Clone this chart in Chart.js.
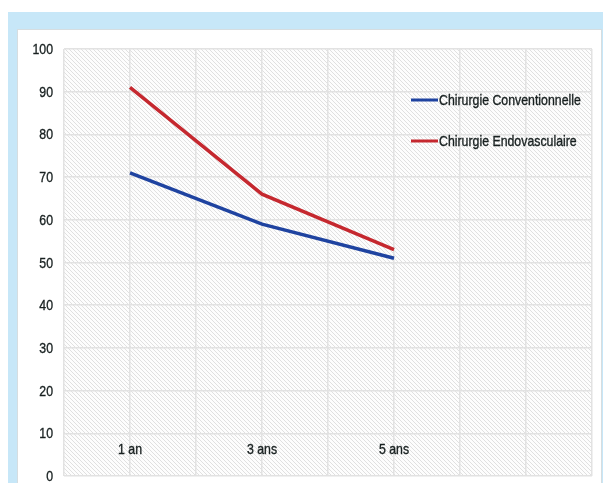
<!DOCTYPE html>
<html>
<head>
<meta charset="utf-8">
<script src="https://cdn.jsdelivr.net/npm/chart.js@4"></script>
<style>
  html, body { margin: 0; padding: 0; background: #fff; overflow: hidden; }
  #band { position: absolute; left: 8px; top: 12px; width: 595px; height: 480px; background: #c7e7f8; }
  #card { position: absolute; left: 17px; top: 29px; width: 583px; height: 470px; background: #fff; border: 1px solid #d6dde0; }
  #wrap { position: absolute; left: 0; top: 0; width: 603px; height: 483px; }
</style>
</head>
<body>
<div id="band"></div>
<div id="card"></div>
<div id="wrap"><canvas id="chart"></canvas></div>
<script>
// values
const categories = ["1 an", "3 ans", "5 ans"];
const years = [1, 3, 5];
const conventionnelle = [71, 59, 51];
const endovasculaire = [91, 66, 53];
const seriesNames = ["Chirurgie Conventionnelle", "Chirurgie Endovasculaire"];
const yTicks = [0, 10, 20, 30, 40, 50, 60, 70, 80, 90, 100];

const FONT = "14.5px 'Liberation Sans', Arial, sans-serif";
const TEXT_COLOR = "#182020";
const SQUEEZE = 0.85; // the original lettering is a narrow face

function toPoints(vals) {
  return vals.map((v, i) => ({ x: years[i], y: v }));
}

// narrow text: draw with a horizontal squeeze, slightly heavier
function narrowText(ctx, str, x, y, align) {
  ctx.save();
  ctx.font = FONT;
  ctx.fillStyle = TEXT_COLOR;
  ctx.strokeStyle = TEXT_COLOR;
  ctx.lineWidth = 0.35;
  ctx.textBaseline = "middle";
  ctx.textAlign = "left";
  const w = ctx.measureText(str).width * SQUEEZE;
  let left = x;
  if (align === "center") left = x - w / 2;
  if (align === "right") left = x - w;
  ctx.translate(left, y);
  ctx.scale(SQUEEZE, 1);
  ctx.fillText(str, 0, 0);
  ctx.strokeText(str, 0, 0);
  ctx.restore();
}

// hatched background of the plot area
function makeHatch() {
  const c = document.createElement("canvas");
  c.width = 4;
  c.height = 4;
  const g = c.getContext("2d");
  g.fillStyle = "#fdfdfd";
  g.fillRect(0, 0, 4, 4);
  g.strokeStyle = "#e0e0e0";
  g.lineWidth = 1;
  g.beginPath();
  g.moveTo(-1, -1);
  g.lineTo(5, 5);
  g.moveTo(-1, 3);
  g.lineTo(1, 5);
  g.moveTo(3, -1);
  g.lineTo(5, 1);
  g.stroke();
  return c;
}

const hatchPlugin = {
  id: "hatch",
  beforeDraw(chart) {
    const { ctx, chartArea } = chart;
    ctx.save();
    ctx.fillStyle = ctx.createPattern(makeHatch(), "repeat");
    ctx.fillRect(chartArea.left, chartArea.top, chartArea.right - chartArea.left, chartArea.bottom - chartArea.top);
    ctx.restore();
  },
};

// tick labels and legend, drawn in the narrow lettering
const labelsPlugin = {
  id: "labels",
  afterDatasetsDraw(chart) {
    const ctx = chart.ctx;
    const xs = chart.scales.x;
    const ys = chart.scales.y;

    yTicks.forEach((v) => {
      narrowText(ctx, String(v), xs.left - 11, ys.getPixelForValue(v) + 1, "right");
    });

    categories.forEach((c, i) => {
      narrowText(ctx, c, xs.getPixelForValue(years[i]), ys.getPixelForValue(6.2), "center");
    });

    chart.data.datasets.forEach((ds, i) => {
      const y = 100 + i * 41;
      ctx.save();
      ctx.strokeStyle = ds.borderColor;
      ctx.lineWidth = 3;
      ctx.beginPath();
      ctx.moveTo(411, y);
      ctx.lineTo(438, y);
      ctx.stroke();
      ctx.restore();
      narrowText(ctx, ds.label, 439, y + 1, "left");
    });
  },
};

new Chart(document.getElementById("chart"), {
  type: "line",
  data: {
    datasets: [
      {
        label: seriesNames[0],
        data: toPoints(conventionnelle),
        borderColor: "#1f43a0",
        borderWidth: 3.4,
        pointRadius: 0,
        tension: 0,
      },
      {
        label: seriesNames[1],
        data: toPoints(endovasculaire),
        borderColor: "#c5282f",
        borderWidth: 3.4,
        pointRadius: 0,
        tension: 0,
      },
    ],
  },
  options: {
    responsive: true,
    maintainAspectRatio: false,
    animation: false,
    layout: { padding: { top: 49, right: 11, left: 0, bottom: 0 } },
    plugins: {
      legend: { display: false },
      tooltip: { enabled: false },
    },
    scales: {
      x: {
        type: "linear",
        min: 0,
        max: 8,
        afterBuildTicks(scale) {
          scale.ticks = [0, 1, 2, 3, 4, 5, 6, 7, 8].map((v) => ({ value: v }));
        },
        afterFit(scale) {
          scale.height = 7;
        },
        ticks: { display: false },
        grid: { color: "#e2e2e2", lineWidth: 1.5, drawTicks: false },
        border: { display: false },
      },
      y: {
        min: 0,
        max: 100,
        afterBuildTicks(scale) {
          scale.ticks = yTicks.map((v) => ({ value: v }));
        },
        afterFit(scale) {
          scale.width = 64;
        },
        ticks: { display: false },
        grid: { color: "#e2e2e2", lineWidth: 1.5, drawTicks: false },
        border: { display: false },
      },
    },
  },
  plugins: [hatchPlugin, labelsPlugin],
});
</script>
</body>
</html>
